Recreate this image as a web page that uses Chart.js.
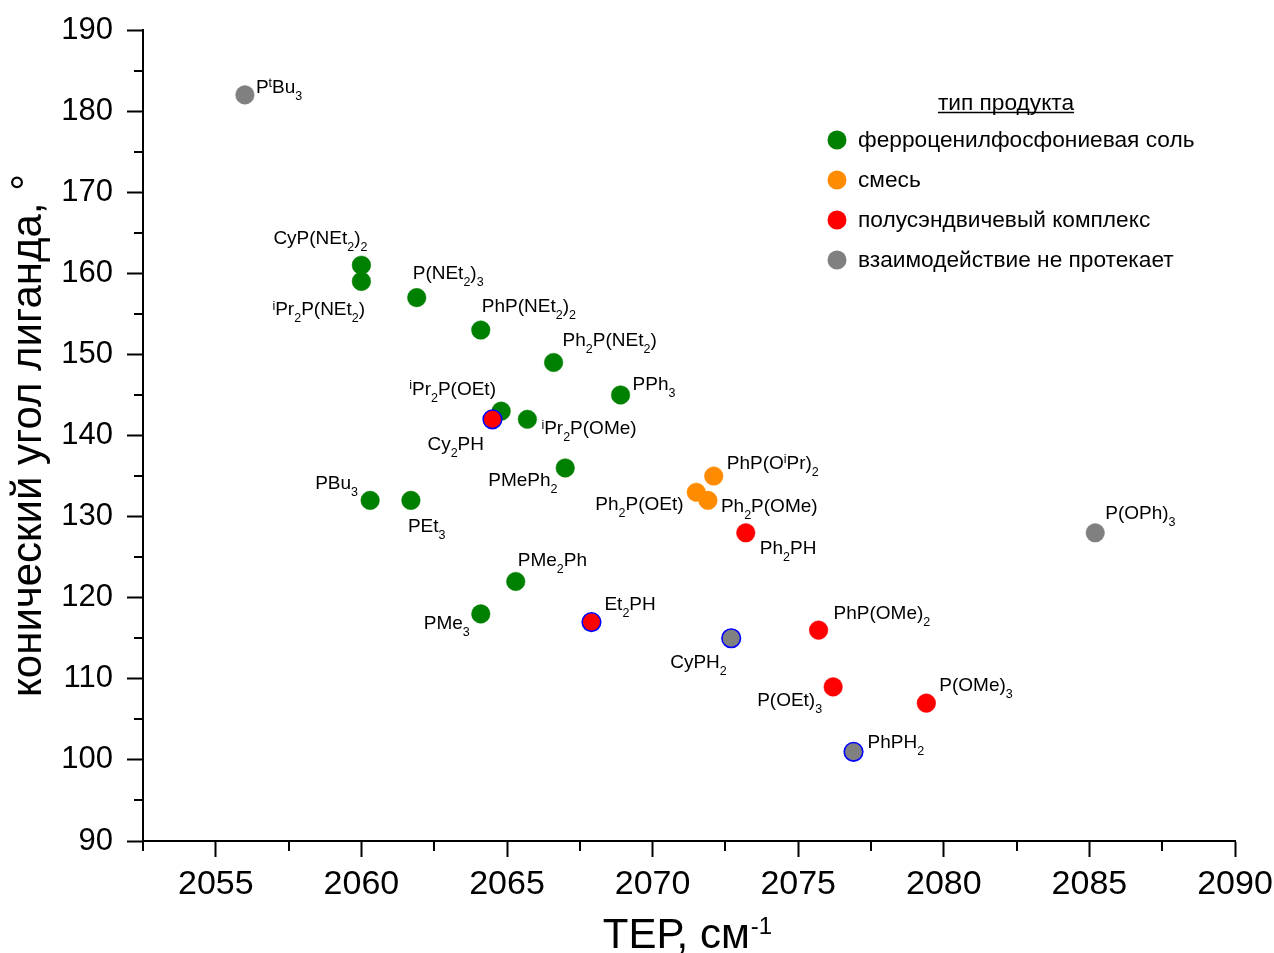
<!DOCTYPE html>
<html>
<head>
<meta charset="utf-8">
<script src="https://cdn.jsdelivr.net/npm/chart.js@4.4.1/dist/chart.umd.min.js"></script>
<style>
  html, body { margin: 0; padding: 0; background: #ffffff; }
  #wrap { width: 1274px; height: 953px; }
</style>
</head>
<body>
<div id="wrap"><canvas id="chart" width="1274" height="953"></canvas></div>
<script>
const FONT = '"Liberation Sans", Arial, Helvetica, sans-serif';

// Product types (legend entries) and their colours
const seriesNames = [
  'ферроценилфосфониевая соль',
  'смесь',
  'полусэндвичевый комплекс',
  'взаимодействие не протекает'
];
const seriesColors = ['#008000', '#ff8c00', '#ff0000', '#808080'];

// Ligand formulas: _{..} = subscript, ^{..} = superscript
const saltLigands = ['CyP(NEt_{2})_{2}', '^{i}Pr_{2}P(NEt_{2})', 'P(NEt_{2})_{3}', 'PhP(NEt_{2})_{2}',
  'Ph_{2}P(NEt_{2})', 'PPh_{3}', '^{i}Pr_{2}P(OEt)', '^{i}Pr_{2}P(OMe)', 'PMePh_{2}',
  'PBu_{3}', 'PEt_{3}', 'PMe_{2}Ph', 'PMe_{3}'];
const saltTEP   = [2060.0, 2060.0, 2061.9, 2064.1, 2066.6, 2068.9, 2064.8, 2065.7, 2067.0, 2060.3, 2061.7, 2065.3, 2064.1];
const saltAngle = [161, 159, 157, 153, 149, 145, 143, 142, 136, 132, 132, 122, 118];

const mixLigands = ['PhP(O^{i}Pr)_{2}', 'Ph_{2}P(OEt)', 'Ph_{2}P(OMe)'];
const mixTEP     = [2072.1, 2071.5, 2071.9];
const mixAngle   = [135, 133, 132];

const halfSandwichLigands = ['Cy_{2}PH', 'Et_{2}PH', 'Ph_{2}PH', 'PhP(OMe)_{2}', 'P(OEt)_{3}', 'P(OMe)_{3}'];
const halfSandwichTEP     = [2064.5, 2067.9, 2073.2, 2075.7, 2076.2, 2079.4];
const halfSandwichAngle   = [142, 117, 128, 116, 109, 107];

const noReactionLigands = ['P^{t}Bu_{3}', 'CyPH_{2}', 'PhPH_{2}', 'P(OPh)_{3}'];
const noReactionTEP     = [2056.0, 2072.7, 2076.9, 2085.2];
const noReactionAngle   = [182, 115, 101, 128];

// Primary / secondary phosphines are drawn with a blue rim
const blueRimmed = ['Cy_{2}PH', 'Et_{2}PH', 'CyPH_{2}', 'PhPH_{2}'];

// Axis ticks
const xMajorTicks = [2055, 2060, 2065, 2070, 2075, 2080, 2085, 2090];
const xMinorTicks = [2052.5, 2057.5, 2062.5, 2067.5, 2072.5, 2077.5, 2082.5, 2087.5];
const yMinorTicks = [95, 105, 115, 125, 135, 145, 155, 165, 175, 185];

// Label placement relative to the marker centre: [dx to text start, dy to cap-height middle]
const labelPlacement = {
  'CyP(NEt_{2})_{2}': [-88, -28], '^{i}Pr_{2}P(NEt_{2})': [-89, 27], 'P(NEt_{2})_{3}': [-4, -25],
  'PhP(NEt_{2})_{2}': [1, -25], 'Ph_{2}P(NEt_{2})': [9, -23], 'PPh_{3}': [12, -12],
  '^{i}Pr_{2}P(OEt)': [-92, -23], '^{i}Pr_{2}P(OMe)': [14, 8], 'PMePh_{2}': [-77, 11],
  'PBu_{3}': [-55, -18], 'PEt_{3}': [-3, 25], 'PMe_{2}Ph': [2, -22], 'PMe_{3}': [-57, 8],
  'PhP(O^{i}Pr)_{2}': [13, -14], 'Ph_{2}P(OEt)': [-101, 11], 'Ph_{2}P(OMe)': [13, 5],
  'Cy_{2}PH': [-65, 24], 'Et_{2}PH': [13, -19], 'Ph_{2}PH': [14, 14], 'PhP(OMe)_{2}': [15, -18],
  'P(OEt)_{3}': [-76, 12], 'P(OMe)_{3}': [13, -19],
  'P^{t}Bu_{3}': [11, -9], 'CyPH_{2}': [-61, 23], 'PhPH_{2}': [14, -11], 'P(OPh)_{3}': [10, -21]
};

function toPoints(xs, ys) { return xs.map((x, i) => ({ x: x, y: ys[i] })); }

function parseMarkup(s) {
  const parts = [];
  let i = 0;
  while (i < s.length) {
    if ((s[i] === '_' || s[i] === '^') && s[i + 1] === '{') {
      const end = s.indexOf('}', i);
      parts.push({ text: s.slice(i + 2, end), kind: s[i] });
      i = end + 1;
    } else {
      let j = i;
      while (j < s.length && !((s[j] === '_' || s[j] === '^') && s[j + 1] === '{')) j++;
      parts.push({ text: s.slice(i, j), kind: '' });
      i = j;
    }
  }
  return parts;
}

function drawRich(ctx, s, x, baseline, size, smallSize, subShift, supShift) {
  ctx.save();
  ctx.textAlign = 'left';
  ctx.textBaseline = 'alphabetic';
  ctx.fillStyle = '#000';
  let cx = x;
  for (const p of parseMarkup(s)) {
    const fs = p.kind ? smallSize : size;
    const dy = p.kind === '_' ? subShift : (p.kind === '^' ? supShift : 0);
    ctx.font = fs + 'px ' + FONT;
    ctx.fillText(p.text, cx, baseline + dy);
    cx += ctx.measureText(p.text).width;
  }
  ctx.restore();
}

function makeDataset(idx, ligands, xs, ys, order) {
  const color = seriesColors[idx];
  return {
    label: seriesNames[idx],
    ligands: ligands,
    data: toPoints(xs, ys),
    backgroundColor: color,
    borderColor: ligands.map(l => blueRimmed.includes(l) ? '#0000ff' : color),
    borderWidth: ligands.map(l => blueRimmed.includes(l) ? 1.6 : 0.5),
    pointRadius: 9.3,
    pointHoverRadius: 9.3,
    order: order
  };
}

// Formula labels next to each marker
const ligandLabels = {
  id: 'ligandLabels',
  afterDatasetsDraw(chart) {
    const ctx = chart.ctx;
    chart.data.datasets.forEach((ds, di) => {
      const meta = chart.getDatasetMeta(di);
      meta.data.forEach((el, i) => {
        const name = ds.ligands[i];
        const off = labelPlacement[name] || [12, -15];
        drawRich(ctx, name, el.x + off[0], el.y + off[1] + 6.8, 19, 12.5, 7, -5.5);
      });
    });
  }
};

// Minor ticks and the x-axis title with superscript
const axisExtras = {
  id: 'axisExtras',
  afterDraw(chart) {
    const ctx = chart.ctx;
    const xs = chart.scales.x, ys = chart.scales.y;
    const area = chart.chartArea;
    ctx.save();
    ctx.strokeStyle = '#000';
    ctx.lineWidth = 2;
    ctx.beginPath();
    xMinorTicks.forEach(v => {
      const px = Math.round(xs.getPixelForValue(v));
      ctx.moveTo(px, area.bottom);
      ctx.lineTo(px, area.bottom + 10);
    });
    yMinorTicks.forEach(v => {
      const py = Math.round(ys.getPixelForValue(v));
      ctx.moveTo(area.left, py);
      ctx.lineTo(area.left - 9, py);
    });
    ctx.stroke();

    // x-axis title: "ТЕР, см" with superscript "-1"
    ctx.fillStyle = '#000';
    ctx.textBaseline = 'alphabetic';
    ctx.font = '42px ' + FONT;
    const main = 'ТЕР, см';
    const wMain = ctx.measureText(main).width;
    ctx.font = '24px ' + FONT;
    const wSup = ctx.measureText('-1').width;
    const cx = (area.left + area.right) / 2;
    const x0 = cx - (wMain + wSup) / 2 - 2;
    ctx.font = '42px ' + FONT;
    ctx.fillText(main, x0, 948);
    ctx.font = '24px ' + FONT;
    ctx.fillText('-1', x0 + wMain + 1, 934);
    ctx.restore();
  }
};

// Legend with underlined heading, placed inside the plot area
const productLegend = {
  id: 'productLegend',
  afterDraw(chart) {
    const ctx = chart.ctx;
    ctx.save();
    ctx.fillStyle = '#000';
    ctx.font = '22.7px ' + FONT;
    ctx.textBaseline = 'alphabetic';
    const title = 'тип продукта';
    const tw = ctx.measureText(title).width;
    const tx = 1006 - tw / 2;
    ctx.fillText(title, tx, 110);
    ctx.strokeStyle = '#000';
    ctx.lineWidth = 1.5;
    ctx.beginPath();
    ctx.moveTo(tx, 112.5);
    ctx.lineTo(tx + tw, 112.5);
    ctx.stroke();

    chart.data.datasets.forEach((ds, i) => {
      const y = 140 + i * 40;
      ctx.beginPath();
      ctx.arc(837, y, 9.5, 0, Math.PI * 2);
      ctx.fillStyle = ds.backgroundColor;
      ctx.fill();
      ctx.fillStyle = '#000';
      ctx.fillText(ds.label, 858, y + 6.5);
    });
    ctx.restore();
  }
};

new Chart(document.getElementById('chart'), {
  type: 'scatter',
  data: {
    datasets: [
      makeDataset(0, saltLigands, saltTEP, saltAngle, 3),
      makeDataset(1, mixLigands, mixTEP, mixAngle, 2),
      makeDataset(2, halfSandwichLigands, halfSandwichTEP, halfSandwichAngle, 1),
      makeDataset(3, noReactionLigands, noReactionTEP, noReactionAngle, 0)
    ]
  },
  options: {
    responsive: false,
    animation: false,
    events: [],
    devicePixelRatio: 1,
    layout: { padding: { top: 30, right: 39, left: 0, bottom: 0 } },
    plugins: {
      legend: { display: false },
      tooltip: { enabled: false }
    },
    scales: {
      x: {
        type: 'linear',
        min: 2052.5,
        max: 2090,
        afterBuildTicks(scale) { scale.ticks = xMajorTicks.map(v => ({ value: v })); },
        afterFit(scale) {
          scale.height = 112;
          scale.paddingLeft = 0;
          scale.paddingRight = 0;
        },
        ticks: {
          color: '#000',
          font: { family: FONT, size: 34 },
          padding: 7,
          maxRotation: 0,
          autoSkip: false,
          callback: v => String(v)
        },
        grid: { drawOnChartArea: false, drawTicks: true, tickLength: 16, tickWidth: 2, tickColor: '#000' },
        border: { display: true, color: '#000', width: 2 }
      },
      y: {
        type: 'linear',
        min: 90,
        max: 190,
        afterFit(scale) {
          scale.width = 143;
          scale.paddingTop = 0;
          scale.paddingBottom = 0;
        },
        ticks: {
          stepSize: 10,
          color: '#000',
          font: { family: FONT, size: 31 },
          padding: 14
        },
        grid: { drawOnChartArea: false, drawTicks: true, tickLength: 16, tickWidth: 2, tickColor: '#000' },
        border: { display: true, color: '#000', width: 2 },
        title: {
          display: true,
          text: 'конический угол лиганда, °',
          color: '#000',
          font: { family: FONT, size: 42 },
          padding: { top: 4, bottom: 0 }
        }
      }
    }
  },
  plugins: [ligandLabels, axisExtras, productLegend]
});
</script>
</body>
</html>
